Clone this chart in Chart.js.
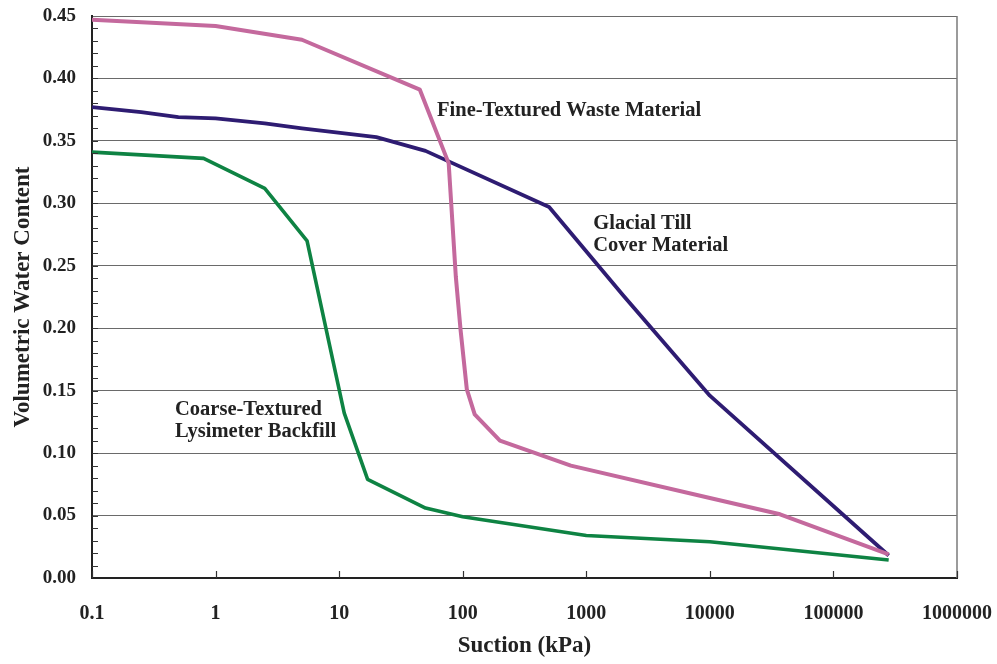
<!DOCTYPE html>
<html>
<head>
<meta charset="utf-8">
<script src="https://cdn.jsdelivr.net/npm/chart.js@4"></script>
<style>
  html, body { margin: 0; padding: 0; background: #ffffff; }
  #wrap { width: 997px; height: 664px; position: relative; }
</style>
</head>
<body>
<div id="wrap"><canvas id="c" width="997" height="664"></canvas></div>
<script>
// ---- Data ----
const xTickValues = [0.1, 1, 10, 100, 1000, 10000, 100000, 1000000];
const xTickLabels = ["0.1", "1", "10", "100", "1000", "10000", "100000", "1000000"];
const yTickValues = [0, 0.05, 0.10, 0.15, 0.20, 0.25, 0.30, 0.35, 0.40, 0.45];
const yTickLabels = ["0.00", "0.05", "0.10", "0.15", "0.20", "0.25", "0.30", "0.35", "0.40", "0.45"];

const fineSuction = [0.1, 1, 5, 45, 77, 88, 96, 108, 125, 200, 750, 10000, 37000, 280000];
const fineWater   = [0.447, 0.442, 0.431, 0.391, 0.332, 0.241, 0.199, 0.151, 0.131, 0.110, 0.090, 0.064, 0.051, 0.019];

const tillSuction = [0.1, 0.25, 0.5, 1, 2.5, 5, 20, 50, 500, 2000, 10000, 280000];
const tillWater   = [0.377, 0.373, 0.369, 0.368, 0.364, 0.360, 0.353, 0.342, 0.297, 0.226, 0.146, 0.018];

const coarseSuction = [0.1, 0.8, 2.5, 5.5, 11, 17, 50, 100, 1000, 10000, 280000];
const coarseWater   = [0.341, 0.336, 0.312, 0.270, 0.132, 0.079, 0.056, 0.049, 0.034, 0.029, 0.0144];

const seriesNames = ["Fine-Textured Waste Material", "Glacial Till Cover Material", "Coarse-Textured Lysimeter Backfill"];

// annotation text (lines) and anchor in data coordinates
const noteLines = [["Fine-Textured Waste Material"], ["Glacial Till", "Cover Material"], ["Coarse-Textured", "Lysimeter Backfill"]];
const noteSuction = [62, 1140, 0.47];
const noteWater = [0.3745, 0.284, 0.135];

function pairs(xs, ys) { return xs.map((x, i) => ({ x: x, y: ys[i] })); }

const TXT = '#222222';
const SERIF = '"Liberation Serif", "Times New Roman", serif';

const innerTicks = {
  id: 'innerTicks',
  afterDatasetsDraw(chart) {
    const ctx = chart.ctx;
    const xs = chart.scales.x, ys = chart.scales.y;
    const a = chart.chartArea;
    ctx.save();
    // right border
    ctx.strokeStyle = '#7a7a7a';
    ctx.lineWidth = 1.5;
    ctx.beginPath();
    ctx.moveTo(a.right, a.top);
    ctx.lineTo(a.right, a.bottom);
    ctx.stroke();
    // y minor ticks every 0.01 (inside)
    ctx.strokeStyle = '#333';
    ctx.lineWidth = 1;
    for (let k = 1; k < 45; k++) {
      const py = Math.round(ys.getPixelForValue(k / 100)) + 0.5;
      ctx.beginPath();
      ctx.moveTo(a.left, py);
      ctx.lineTo(a.left + 6, py);
      ctx.stroke();
    }
    // x ticks at decades (inside)
    ctx.lineWidth = 1.2;
    xTickValues.forEach(v => {
      const px = Math.round(xs.getPixelForValue(v)) + 0.5;
      ctx.beginPath();
      ctx.moveTo(px, a.bottom);
      ctx.lineTo(px, a.bottom - 7);
      ctx.stroke();
    });
    // annotations
    ctx.fillStyle = TXT;
    ctx.font = 'bold 20.5px ' + SERIF;
    ctx.textAlign = 'left';
    ctx.textBaseline = 'middle';
    noteLines.forEach((lines, i) => {
      const px = xs.getPixelForValue(noteSuction[i]);
      const py = ys.getPixelForValue(noteWater[i]);
      lines.forEach((t, j) => ctx.fillText(t, px, py + j * 22));
    });
    ctx.restore();
  }
};

new Chart(document.getElementById('c'), {
  type: 'line',
  data: {
    datasets: [
      { label: seriesNames[0], data: pairs(fineSuction, fineWater), borderColor: '#C4699D', borderWidth: 4 },
      { label: seriesNames[1], data: pairs(tillSuction, tillWater), borderColor: '#2E1C72', borderWidth: 3.8 },
      { label: seriesNames[2], data: pairs(coarseSuction, coarseWater), borderColor: '#0E8343', borderWidth: 3.6 }
    ]
  },
  options: {
    responsive: false,
    animation: false,
    parsing: true,
    elements: { point: { radius: 0 }, line: { tension: 0, fill: false, borderJoinStyle: 'round' } },
    layout: { padding: { top: 16, right: 40, bottom: 0, left: 0 } },
    plugins: { legend: { display: false }, tooltip: { enabled: false } },
    scales: {
      x: {
        type: 'logarithmic',
        min: 0.1, max: 1000000,
        afterBuildTicks: s => { s.ticks = xTickValues.map(v => ({ value: v })); },
        afterFit: s => { s.height = 86; s.paddingLeft = 0; s.paddingRight = 0; },
        grid: { display: false, drawTicks: false },
        border: { display: true, color: '#222', width: 2 },
        ticks: {
          autoSkip: false, maxRotation: 0, padding: 24, color: TXT,
          font: { family: SERIF, size: 20, weight: 'bold' },
          callback: (v, i) => xTickLabels[i]
        },
        title: {
          display: true, text: 'Suction (kPa)', color: TXT,
          font: { family: SERIF, size: 23, weight: 'bold' },
          padding: { top: 0, bottom: 4 }
        }
      },
      y: {
        min: 0, max: 0.45,
        afterBuildTicks: s => { s.ticks = yTickValues.map(v => ({ value: v })); },
        afterFit: s => { s.width = 92; s.paddingTop = 0; s.paddingBottom = 0; },
        grid: { color: '#6a6a6a', lineWidth: 1, drawTicks: false },
        border: { display: true, color: '#222', width: 2 },
        ticks: {
          padding: 16, color: TXT,
          font: { family: SERIF, size: 19, weight: 'bold' },
          callback: (v, i) => yTickLabels[i]
        },
        title: {
          display: true, text: 'Volumetric Water Content', color: TXT,
          font: { family: SERIF, size: 23, weight: 'bold' },
          padding: { top: 9, bottom: 0 }
        }
      }
    }
  },
  plugins: [innerTicks]
});
</script>
</body>
</html>
